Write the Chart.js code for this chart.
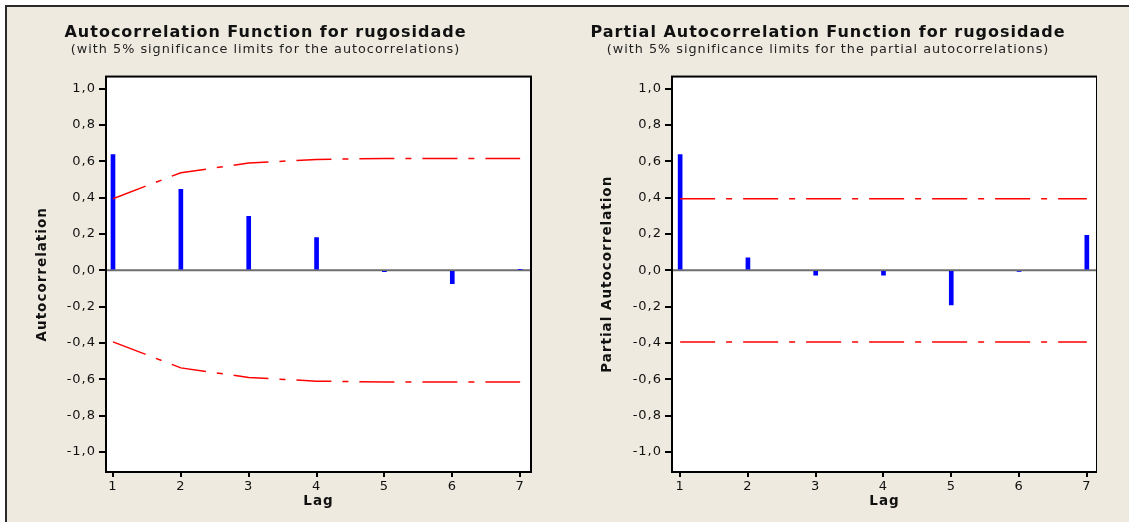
<!DOCTYPE html>
<html>
<head>
<meta charset="utf-8">
<script src="https://cdn.jsdelivr.net/npm/chart.js@4"></script>
<style>
  body { margin: 0; background: #fff; width: 1129px; height: 522px; overflow: hidden; }
  #frame { position: absolute; left: 5px; top: 5px; width: 1124px; height: 517px; box-sizing: border-box;
           background: #EEEADF; border-top: 2px solid #2a2a2a; border-left: 2px solid #2a2a2a; }
  canvas { position: absolute; top: 0; }
</style>
</head>
<body>
<div id="frame"></div>
<canvas id="acf" width="533" height="522" style="left:0px"></canvas>
<canvas id="pacf" width="538" height="522" style="left:559px"></canvas>
<script>
// lags and values
const lags = [1, 2, 3, 4, 5, 6, 7];
const acf = [0.637, 0.445, 0.297, 0.18, -0.008, -0.073, 0.005];
const acfUpper = [0.394, 0.537, 0.59, 0.61, 0.615, 0.615, 0.615];
const acfLower = [-0.394, -0.537, -0.59, -0.61, -0.615, -0.615, -0.615];
const pacf = [0.637, 0.068, -0.027, -0.027, -0.19, -0.006, 0.192];
const pacfUpper = [0.394, 0.394, 0.394, 0.394, 0.394, 0.394, 0.394];
const pacfLower = [-0.394, -0.394, -0.394, -0.394, -0.394, -0.394, -0.394];
const yTicks = [-1.0, -0.8, -0.6, -0.4, -0.2, 0.0, 0.2, 0.4, 0.6, 0.8, 1.0];

const FONT = "'DejaVu Sans', Verdana, sans-serif";

function pts(values) {
  return lags.map((l, i) => ({x: l, y: values[i]}));
}

// white plot box, grey zero line, black frame
const boxPlugin = {
  id: 'box',
  beforeLayout(chart) { chart.ctx.letterSpacing = '1px'; },
  beforeDraw(chart) {
    const {ctx, chartArea: a} = chart;
    ctx.letterSpacing = '1px';
    ctx.save();
    ctx.fillStyle = '#fff';
    ctx.fillRect(a.left, a.top, a.width, a.height);
    ctx.restore();
  },
  beforeDatasetsDraw(chart) {
    const {ctx, chartArea: a} = chart;
    const y0 = chart.scales.y.getPixelForValue(0);
    ctx.save();
    ctx.strokeStyle = '#6e6e6e';
    ctx.lineWidth = 2;
    ctx.beginPath();
    ctx.moveTo(a.left, y0);
    ctx.lineTo(a.right, y0);
    ctx.stroke();
    ctx.restore();
  },
  afterDraw(chart) {
    const {ctx, chartArea: a} = chart;
    ctx.save();
    ctx.strokeStyle = '#000';
    ctx.lineWidth = 2;
    ctx.strokeRect(a.left, a.top, a.width, a.height);
    ctx.restore();
  }
};

function makeChart(id, values, upper, lower, title, subtitle, yTitle, yWidth, yTitlePad, padRight, xMin, xMax) {
  const limitStyle = {
    type: 'line',
    borderColor: '#ff0000',
    borderWidth: 1.5,
    borderDash: [35, 11, 6, 11],
    pointRadius: 0,
    tension: 0,
    fill: false
  };
  return new Chart(document.getElementById(id), {
    type: 'bar',
    data: {
      datasets: [
        Object.assign({data: pts(upper)}, limitStyle),
        Object.assign({data: pts(lower)}, limitStyle),
        {
          type: 'bar',
          data: pts(values),
          backgroundColor: '#0000ff',
          barThickness: 4
        }
      ]
    },
    options: {
      responsive: false,
      animation: false,
      layout: {padding: {left: 0, right: padRight, top: 23, bottom: 0}},
      plugins: {
        legend: {display: false},
        tooltip: {enabled: false},
        title: {
          display: true,
          text: title,
          color: '#111',
          font: {family: FONT, size: 16, weight: 'bold'},
          padding: {top: 0, bottom: 0}
        },
        subtitle: {
          display: true,
          text: subtitle,
          color: '#222',
          font: {family: FONT, size: 12.8},
          padding: {top: 0, bottom: 19}
        }
      },
      scales: {
        x: {
          type: 'linear',
          offset: false,
          min: xMin,
          max: xMax,
          afterBuildTicks: s => { s.ticks = lags.map(v => ({value: v})); },
          afterFit: s => { s.height = 50; },
          grid: {offset: false, drawOnChartArea: false, drawTicks: true, tickLength: 5, color: '#000', lineWidth: 2},
          border: {display: false},
          ticks: {color: '#111', font: {family: FONT, size: 13}, padding: 2, maxRotation: 0},
          title: {
            display: true, text: 'Lag', color: '#111',
            font: {family: FONT, size: 13.5, weight: 'bold'},
            padding: {top: 0, bottom: 12}
          }
        },
        y: {
          type: 'linear',
          min: -1.11,
          max: 1.066,
          afterBuildTicks: s => { s.ticks = yTicks.map(v => ({value: v})); },
          afterFit: s => { s.width = yWidth; },
          grid: {drawOnChartArea: false, drawTicks: true, tickLength: 7, color: '#000', lineWidth: 2},
          border: {display: false},
          ticks: {
            color: '#111',
            font: {family: FONT, size: 13},
            padding: 3,
            callback: v => v.toFixed(1).replace('.', ',')
          },
          title: {
            display: true, text: yTitle, color: '#111',
            font: {family: FONT, size: 13.5, weight: 'bold'},
            padding: {top: yTitlePad, bottom: 0}
          }
        }
      }
    },
    plugins: [boxPlugin]
  });
}

makeChart('acf', acf, acfUpper, acfLower,
  'Autocorrelation Function for rugosidade',
  '(with 5% significance limits for the autocorrelations)',
  'Autocorrelation', 106, 34, 2, 0.897, 7.16);

makeChart('pacf', pacf, pacfUpper, pacfLower,
  'Partial Autocorrelation Function for rugosidade',
  '(with 5% significance limits for the partial autocorrelations)',
  'Partial Autocorrelation', 113, 40, 0, 0.88, 7.15);
</script>
</body>
</html>
